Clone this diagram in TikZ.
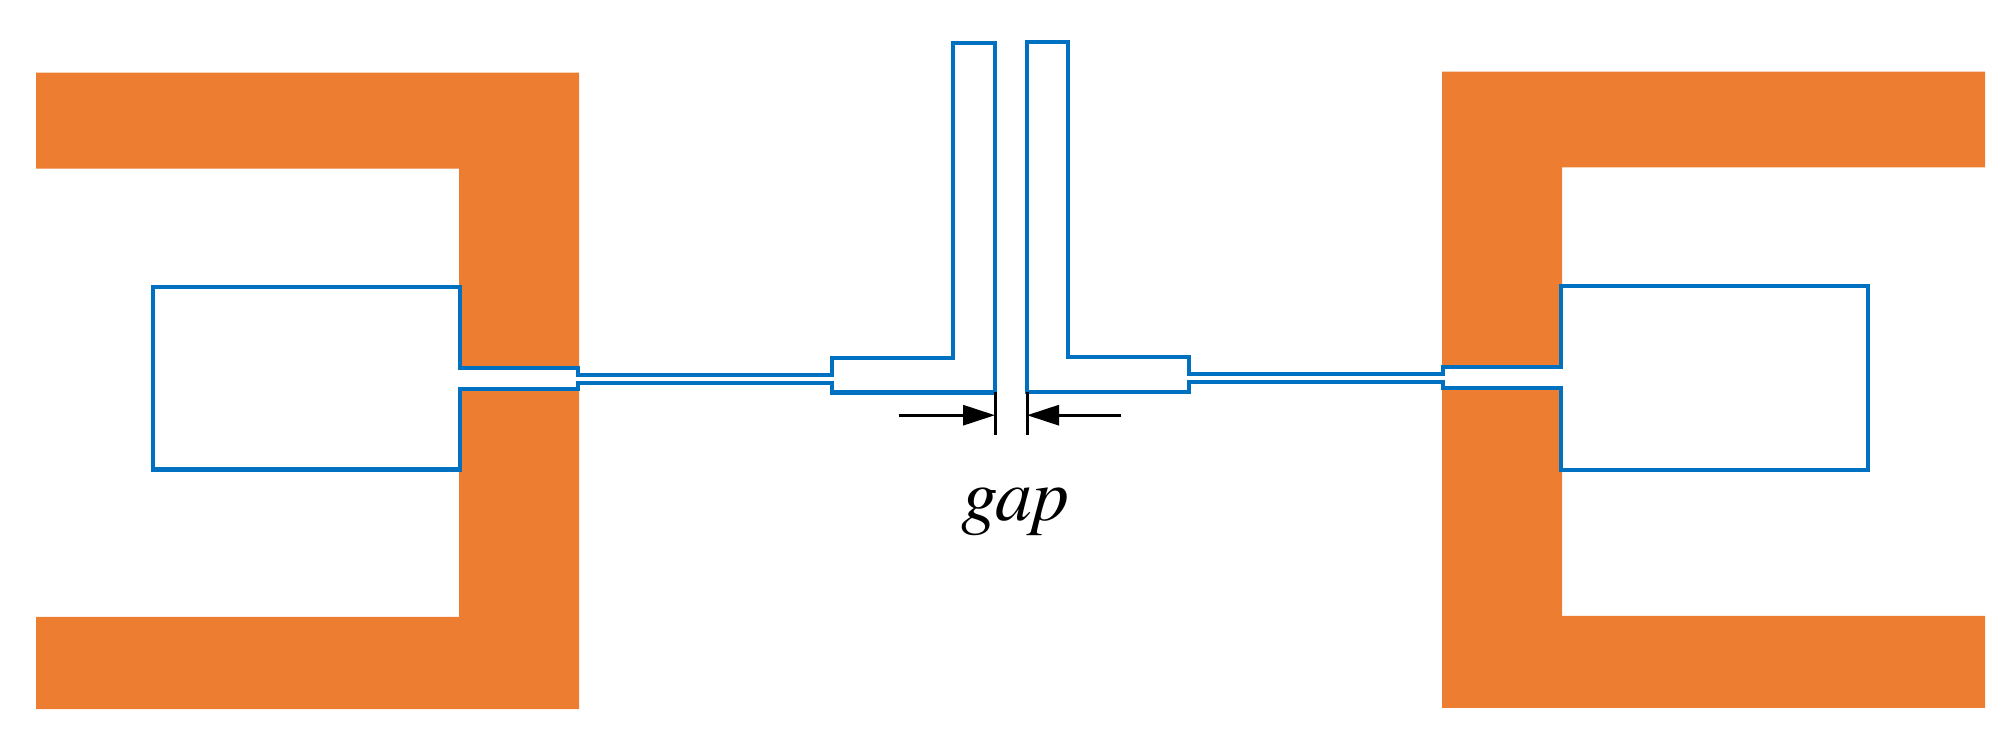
\documentclass[tikz,border=0pt]{standalone}
\usepackage{fontspec}
\setmainfont{TeX Gyre Termes}
\usetikzlibrary{arrows.meta}
\definecolor{padorange}{HTML}{ED7D31}
\definecolor{lineblue}{HTML}{0070C0}
\tikzset{
  padfill/.style={fill=padorange,draw=none},
  antenna/.style={draw=lineblue,fill=white,line width=4.2pt,line join=miter},
  dimtick/.style={draw=black,line width=3pt},
  dimarrow/.style={draw=black,line width=3pt,-{Triangle[length=32pt,width=20pt]},shorten >=0pt},
  gaplabel/.style={inner sep=0pt,anchor=base,font=\fontsize{74}{74}\selectfont\itshape}
}
\begin{document}
\begin{tikzpicture}[x=1pt,y=-1pt]
\useasboundingbox (0,0) rectangle (2012,740);
\fill[padfill] (36,72.7) -- (579,72.7) -- (579,709) -- (36,709) -- (36,616.8) -- (459,616.8) -- (459,168.7) -- (36,168.7) -- cycle;
\fill[padfill] (1985,71.7) -- (1442,71.7) -- (1442,707.8) -- (1985,707.8) -- (1985,615.8) -- (1562,615.8) -- (1562,167.3) -- (1985,167.3) -- cycle;
\draw[antenna] (153,286.7) -- (460,286.7) -- (460,367.7) -- (578,367.7) -- (578,374.8) -- (832,374.8) -- (832,357.8) -- (953,357.8) -- (953,42.7) -- (995,42.7) -- (995,392.5) -- (832,392.5) -- (832,382.8) -- (578,382.8) -- (578,388.7) -- (460,388.7) -- (460,469.5) -- (153,469.5) -- cycle;
\draw[antenna] (1868,285.7) -- (1561,285.7) -- (1561,366.7) -- (1443,366.7) -- (1443,373.8) -- (1189,373.8) -- (1189,357.3) -- (1068,357.3) -- (1068,41.7) -- (1027,41.7) -- (1027,391.7) -- (1189,391.7) -- (1189,381.8) -- (1443,381.8) -- (1443,387.7) -- (1561,387.7) -- (1561,469.8) -- (1868,469.8) -- cycle;
\coordinate (lt) at (995,392);
\coordinate (lb) at (995,434.5);
\coordinate (rt) at (1027,392);
\coordinate (rb) at (1027,434.5);
\coordinate (ltip) at (995,415.2);
\coordinate (rtip) at (1027,415.2);
\coordinate (lfree) at (898.7,415.2);
\coordinate (rfree) at (1121.3,415.2);
\draw[dimtick] (lt) -- (lb);
\draw[dimtick] (rt) -- (rb);
\draw[dimarrow] (lfree) -- (ltip);
\draw[dimarrow] (rfree) -- (rtip);
\node[gaplabel] (gap) at (1015.5,520) {gap};
\end{tikzpicture}
\end{document}
